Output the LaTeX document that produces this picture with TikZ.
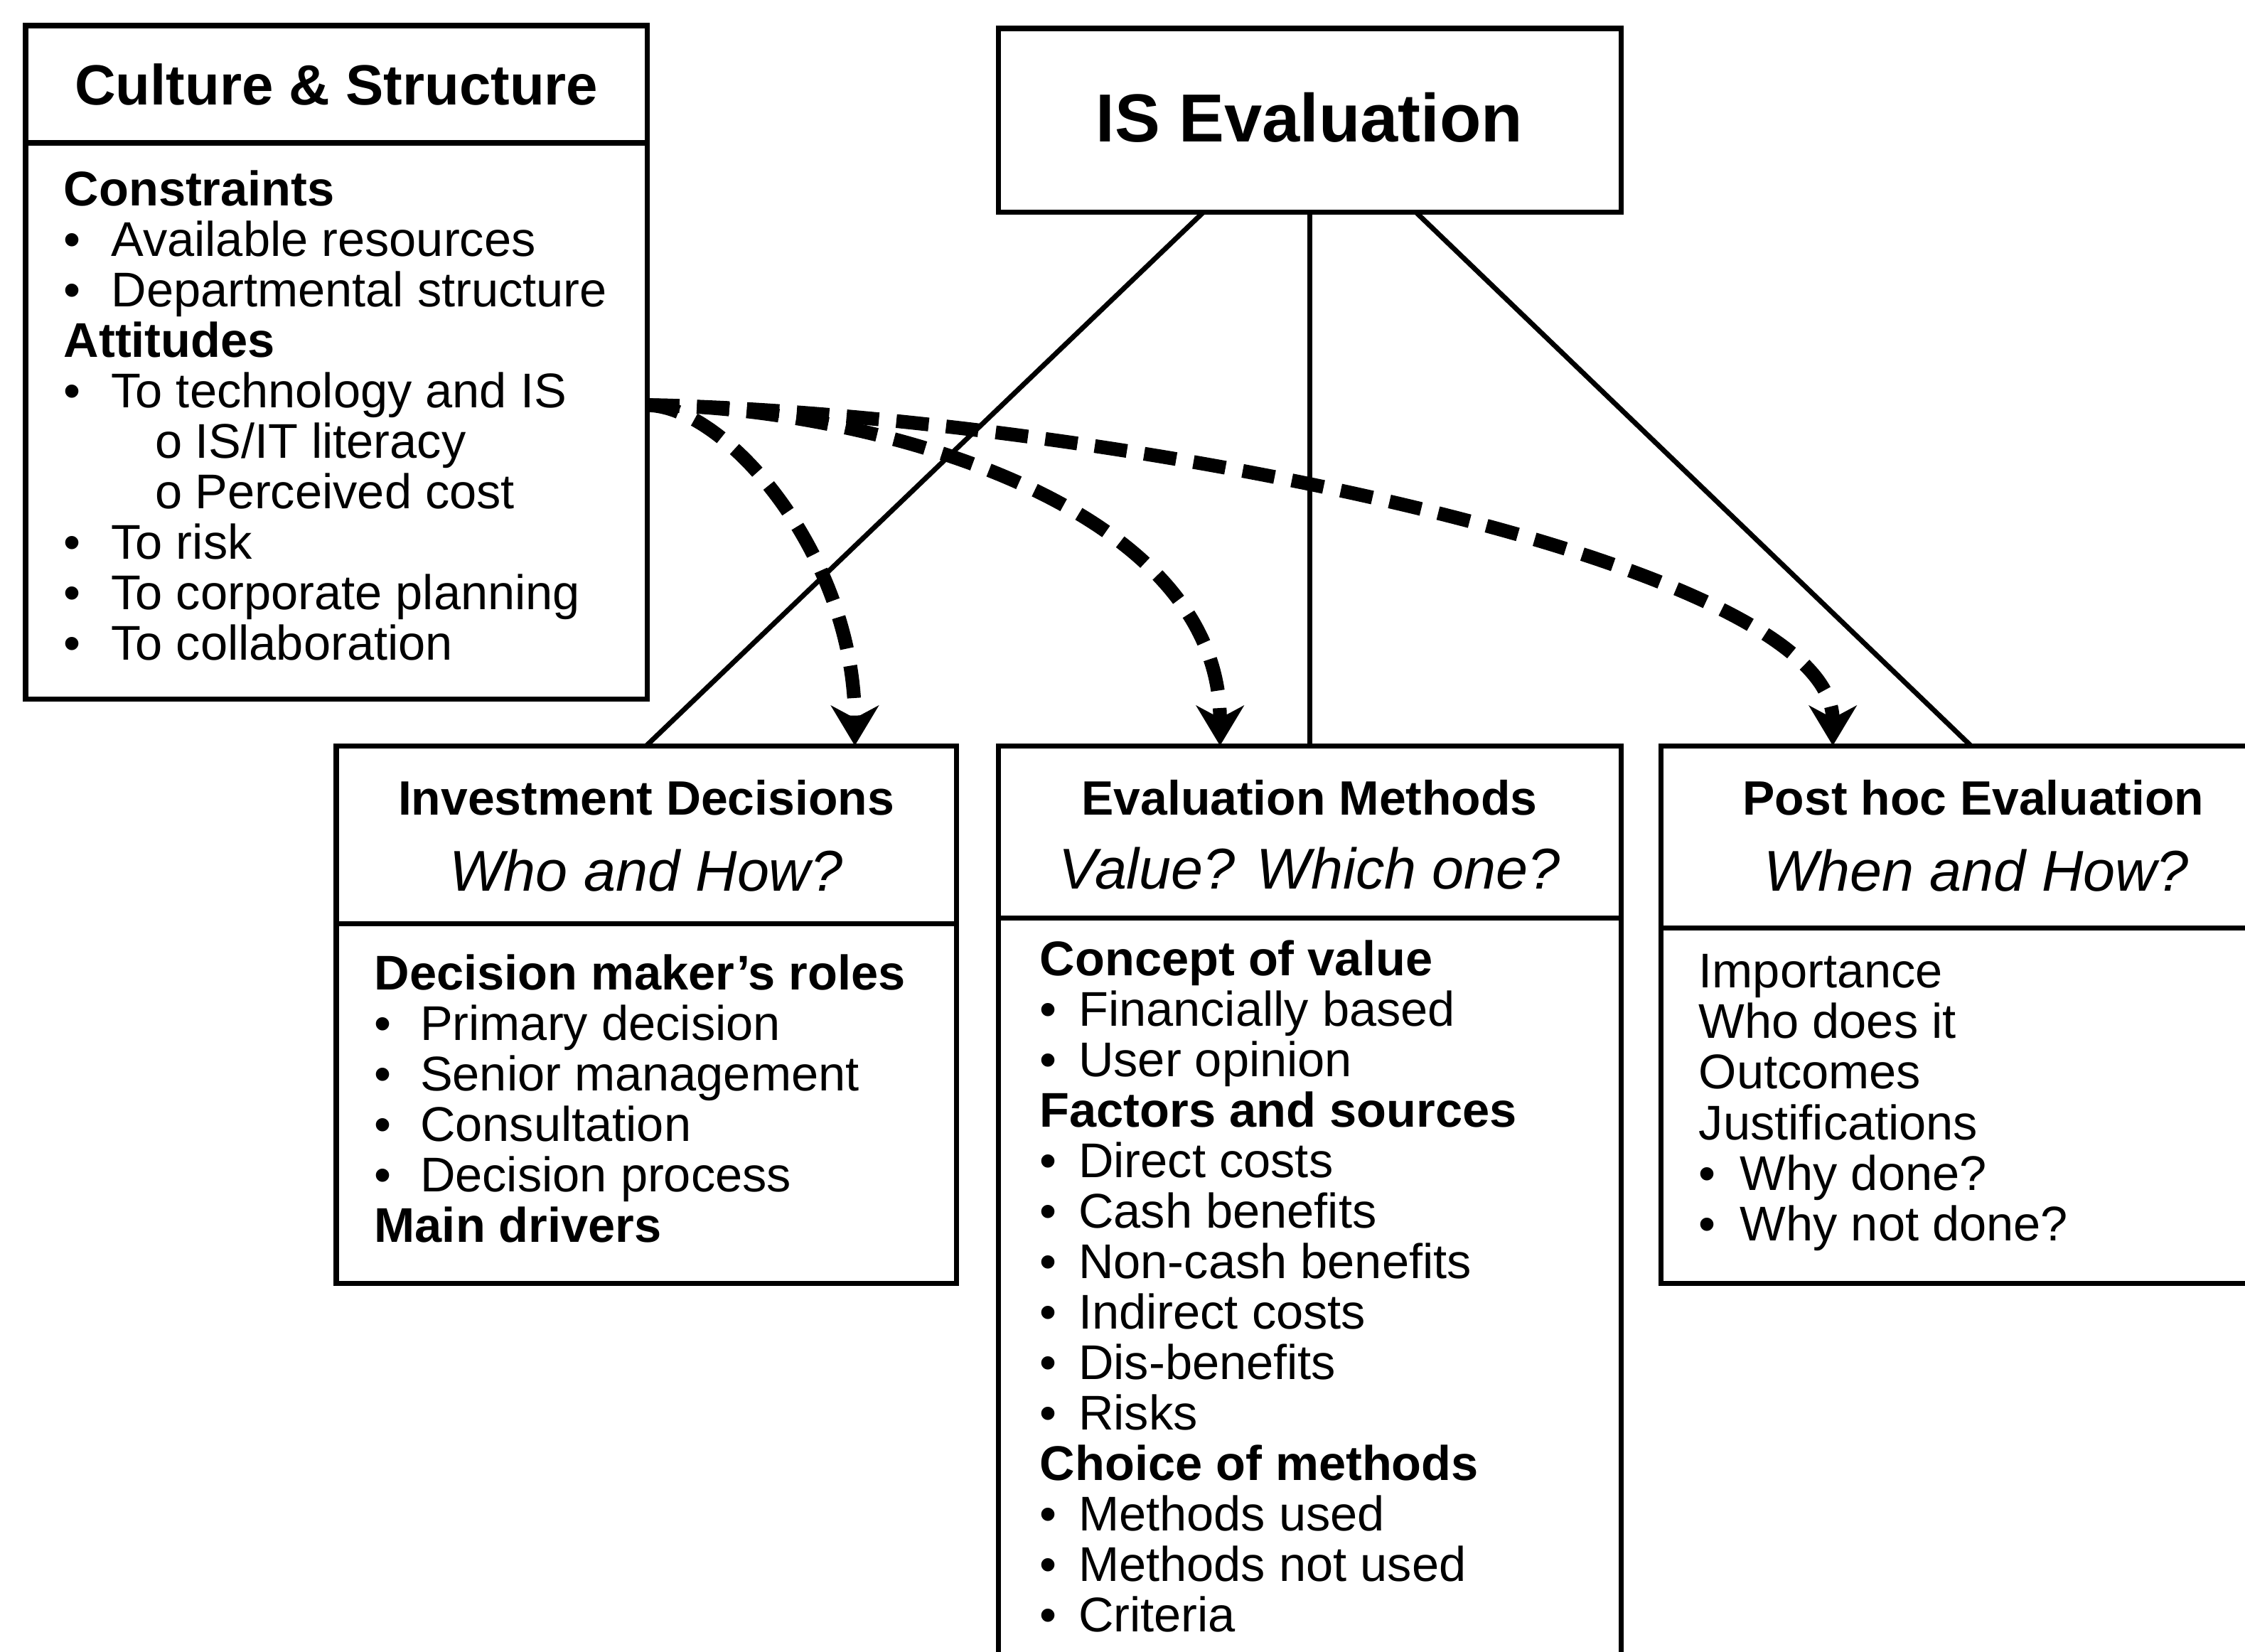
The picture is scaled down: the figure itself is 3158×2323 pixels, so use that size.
\documentclass[tikz,border=0pt]{standalone}
\usepackage{fontspec}
\setmainfont{Liberation Sans}
\usetikzlibrary{arrows.meta}
% bullet item with a fixed indent for the text
\newcommand\itm[2][19pt]{\makebox[#1][l]{\textbullet}#2}
% second-level item with a hollow marker
\newcommand\subitm[1]{\hspace*{36.5pt}\makebox[16pt][l]{o}#1}

\begin{document}
\begin{tikzpicture}[x=0.01cm,y=-0.01cm,
  box/.style={draw, line width=2pt, rectangle, anchor=north west, inner sep=0pt, outer sep=0pt},
  body/.style={anchor=north west, inner sep=0pt, align=left, font=\fontsize{19.5}{20.2}\selectfont},
  head/.style={font=\bfseries\fontsize{19.3}{23}\selectfont, inner sep=0pt},
  ask/.style={font=\itshape\fontsize{23}{27}\selectfont, inner sep=0pt},
  link/.style={line width=2pt},
  infl/.style={line width=5.5pt, dash pattern=on 13pt off 7pt,
    -{Stealth[length=16pt,width=19pt,inset=5pt]}}]

\useasboundingbox (0,0) rectangle (3158,2323);
\clip (0,0) rectangle (3158,2323);
\fill[white] (0,0) rectangle (3158,2323);

% ---- Culture & Structure
\node[box, minimum width=8.74cm, minimum height=1.65cm] (csh) at (36,36) {};
\node[box, minimum width=8.74cm, minimum height=7.82cm] (csb) at (36,201) {};
\node[font=\bfseries\fontsize{22.7}{26}\selectfont, inner sep=0pt] (cstitle) at (csh.center) {Culture \& Structure};
\node[body] (cstext) at (89,239) {%
\textbf{Constraints}\\
\itm{Available resources}\\
\itm{Departmental structure}\\
\textbf{Attitudes}\\
\itm{To technology and IS}\\
\subitm{IS/IT literacy}\\
\subitm{Perceived cost}\\
\itm{To risk}\\
\itm{To corporate planning}\\
\itm{To collaboration}};

% ---- IS Evaluation
\node[box, minimum width=8.76cm, minimum height=2.58cm] (ise) at (1404,40) {};
\node[font=\bfseries\fontsize{27.2}{31}\selectfont, inner sep=0pt] (isetitle) at (1842,165) {IS Evaluation};

% ---- Investment Decisions
\node[box, minimum width=8.72cm, minimum height=2.50cm] (invh) at (473,1049) {};
\node[box, minimum width=8.72cm, minimum height=5.06cm] (invb) at (473,1299) {};
\node[head] (invtitle) at (909,1122) {Investment Decisions};
\node[ask] (invask) at (909,1225) {Who and How?};
\node[body] (invtext) at (526,1342) {%
\textbf{Decision maker's roles}\\
\itm[18.3pt]{Primary decision}\\
\itm[18.3pt]{Senior management}\\
\itm[18.3pt]{Consultation}\\
\itm[18.3pt]{Decision process}\\
\textbf{Main drivers}};

% ---- Evaluation Methods
\node[box, minimum width=8.76cm, minimum height=2.42cm] (evh) at (1404,1049) {};
\node[box, minimum width=8.76cm, minimum height=11.0cm] (evb) at (1404,1291) {};
\node[head] (evtitle) at (1842,1122) {Evaluation Methods};
\node[ask] (evask) at (1842,1222) {Value? Which one?};
\node[body] (evtext) at (1462,1322) {%
\textbf{Concept of value}\\
\itm[15.5pt]{Financially based}\\
\itm[15.5pt]{User opinion}\\
\textbf{Factors and sources}\\
\itm[15.5pt]{Direct costs}\\
\itm[15.5pt]{Cash benefits}\\
\itm[15.5pt]{Non-cash benefits}\\
\itm[15.5pt]{Indirect costs}\\
\itm[15.5pt]{Dis-benefits}\\
\itm[15.5pt]{Risks}\\
\textbf{Choice of methods}\\
\itm[15.5pt]{Methods used}\\
\itm[15.5pt]{Methods not used}\\
\itm[15.5pt]{Criteria}};

% ---- Post hoc Evaluation
\node[box, minimum width=8.72cm, minimum height=2.56cm] (phh) at (2336,1049) {};
\node[box, minimum width=8.72cm, minimum height=5.00cm] (phb) at (2336,1305) {};
\node[head] (phtitle) at (2776,1122) {Post hoc Evaluation};
\node[ask] (phask) at (2780,1225) {When and How?};
\node[body] (phtext) at (2389,1342) {%
Importance\\
Who does it\\
Outcomes\\
Justifications\\
\itm[16.5pt]{Why done?}\\
\itm[16.5pt]{Why not done?}};

% ---- links from IS Evaluation to its three parts
\draw[link] ([xshift=-1.49cm]ise.south) -- (invh.north);
\draw[link] (ise.south) -- (evh.north);
\draw[link] ([xshift=1.49cm]ise.south) -- (phh.north);

% ---- influence of culture and structure
\coordinate (src) at (910,570);
\draw[infl] (src) .. controls +(110,0) and +(0,-269) .. ([xshift=2.93cm]invh.north);
\draw[infl] (src) .. controls +(290,0) and +(0,-349) .. ([xshift=-1.26cm]evh.north);
\draw[infl] (src) .. controls +(590,10) and +(0,-269) .. ([xshift=-1.94cm]phh.north);
\end{tikzpicture}
\end{document}
